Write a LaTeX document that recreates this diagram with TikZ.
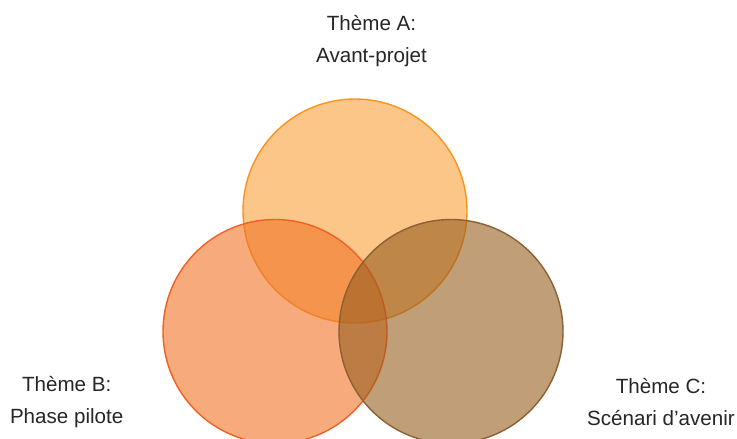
\documentclass[tikz,border=0pt]{standalone}
\usepackage{fontspec}
\setmainfont{Liberation Sans}
\usetikzlibrary{calc}

\definecolor{orangeA}{RGB}{248,160,57}
\definecolor{orangeAline}{RGB}{247,148,30}
\definecolor{rougeB}{RGB}{242,115,38}
\definecolor{rougeBline}{RGB}{240,96,34}
\definecolor{brunC}{RGB}{150,93,30}
\definecolor{brunCline}{RGB}{140,96,50}
\definecolor{texte}{RGB}{38,38,38}

\tikzset{
  cercle/.style={circle, minimum size=224pt, inner sep=0pt, line width=1.4pt, fill opacity=0.6},
  theme/.style={align=center, text=texte, font=\fontsize{20.6}{32}\selectfont}
}

\begin{document}
\begin{tikzpicture}[x=1pt, y=1pt]
\useasboundingbox (0,0) rectangle (737,439);
\node[cercle, fill=orangeA, draw=orangeAline] (a) at (355,228) {};
\node[cercle, fill=rougeB, draw=rougeBline] (b) at (275,107.5) {};
\node[cercle, fill=brunC, draw=brunCline] (c) at (451,107.5) {};
\node[theme] (ta) at (371.5,398) {Thème A:\\Avant-projet};
\node[theme] (tb) at (66.7,36.5) {Thème B:\\Phase pilote};
\node[theme] (tc) at (661,36.5) {Thème C:\\Scénari d’avenir};
\end{tikzpicture}
\end{document}
